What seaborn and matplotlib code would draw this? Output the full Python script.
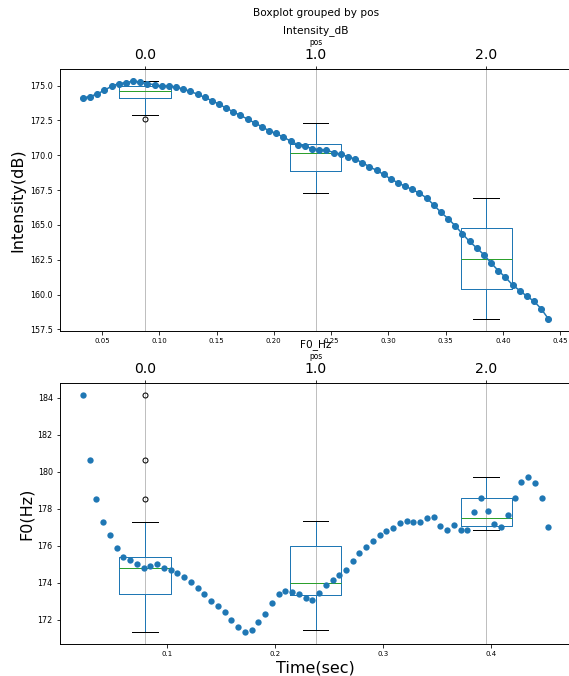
import matplotlib
matplotlib.use("Agg")
import matplotlib.pyplot as plt
from matplotlib.ticker import MultipleLocator
import pandas as pd
import seaborn as sns

# ---- intensity contour (dB) ----
int_time = [0.03340, 0.03965, 0.04590, 0.05215, 0.05840, 0.06465, 0.07090, 0.07715,
            0.08340, 0.08965, 0.09590, 0.10215, 0.10840, 0.11465, 0.12090, 0.12715,
            0.13340, 0.13965, 0.14590, 0.15215, 0.15840, 0.16465, 0.17090, 0.17715,
            0.18340, 0.18965, 0.19590, 0.20215, 0.20840, 0.21465, 0.22090, 0.22715,
            0.23340, 0.23965, 0.24590, 0.25215, 0.25840, 0.26465, 0.27090, 0.27715,
            0.28340, 0.28965, 0.29590, 0.30215, 0.30840, 0.31465, 0.32090, 0.32715,
            0.33340, 0.33965, 0.34590, 0.35215, 0.35840, 0.36465, 0.37090, 0.37715,
            0.38340, 0.38965, 0.39590, 0.40215, 0.40840, 0.41465, 0.42090, 0.42715,
            0.43340, 0.43965]
int_db = [174.12, 174.21, 174.40, 174.66, 174.95, 175.14, 175.21, 175.31,
          175.24, 175.14, 175.05, 174.95, 174.97, 174.88, 174.76, 174.57,
          174.38, 174.14, 173.92, 173.66, 173.38, 173.11, 172.85, 172.59,
          172.31, 172.04, 171.75, 171.56, 171.29, 171.02, 170.75, 170.65,
          170.47, 170.39, 170.37, 170.19, 170.06, 169.90, 169.72, 169.47,
          169.18, 168.91, 168.62, 168.29, 168.02, 167.77, 167.54, 167.27,
          166.93, 166.43, 165.90, 165.45, 164.93, 164.36, 163.81, 163.34,
          162.86, 162.27, 161.72, 161.24, 160.69, 160.29, 159.88, 159.52,
          158.98, 158.26]
int_pos = [0.0] * 24 + [1.0] * 24 + [2.0] * 18

# ---- fundamental frequency contour (Hz) ----
f0_time = [0.02270, 0.02893, 0.03516, 0.04139, 0.04762, 0.05385, 0.06008, 0.06631,
           0.07254, 0.07877, 0.08500, 0.09123, 0.09746, 0.10369, 0.10992, 0.11615,
           0.12238, 0.12861, 0.13484, 0.14107, 0.14730, 0.15353, 0.15976, 0.16599,
           0.17222, 0.17845, 0.18468, 0.19091, 0.19714, 0.20337, 0.20960, 0.21583,
           0.22206, 0.22829, 0.23452, 0.24075, 0.24698, 0.25321, 0.25944, 0.26567,
           0.27190, 0.27813, 0.28436, 0.29059, 0.29682, 0.30305, 0.30928, 0.31551,
           0.32174, 0.32797, 0.33420, 0.34043, 0.34666, 0.35289, 0.35912, 0.36535,
           0.37158, 0.37781, 0.38404, 0.39027, 0.39650, 0.40273, 0.40896, 0.41519,
           0.42142, 0.42765, 0.43388, 0.44011, 0.44634, 0.45257]
f0_hz = [184.15, 180.66, 178.53, 177.29, 176.61, 175.86, 175.39, 175.25,
         175.03, 174.82, 174.90, 175.03, 174.82, 174.67, 174.55, 174.33,
         174.06, 173.74, 173.38, 173.02, 172.77, 172.41, 172.00, 171.59,
         171.32, 171.46, 171.86, 172.34, 172.90, 173.38, 173.58, 173.53,
         173.38, 173.20, 173.06, 173.44, 173.87, 174.13, 174.40, 174.69,
         175.16, 175.64, 175.93, 176.27, 176.59, 176.83, 176.95, 177.22,
         177.36, 177.31, 177.31, 177.49, 177.58, 177.09, 176.88, 177.15,
         176.88, 176.88, 177.85, 178.57, 177.90, 177.19, 177.02, 177.69,
         178.58, 179.48, 179.75, 179.39, 178.58, 177.02]
f0_pos = [0.0] * 25 + [1.0] * 24 + [2.0] * 21

pos_levels = [0.0, 1.0, 2.0]
pos_labels = ["0.0", "1.0", "2.0"]

BLUE = "#1f77b4"
GREEN = "#2ca02c"

int_df = pd.DataFrame({"time": int_time, "Intensity_dB": int_db, "pos": int_pos})
f0_df = pd.DataFrame({"time": f0_time, "F0_Hz": f0_hz, "pos": f0_pos})

DPI = 72
W, H = 569, 676
fig = plt.figure(figsize=(W / DPI, H / DPI), dpi=DPI)

LEFT = 59.7          # left spine (px)
RIGHT_NOMINAL = 571.6  # where the 0.5..3.5 box range ends
RIGHT = 576.0        # actual right spine, just past the canvas edge
STRETCH = (RIGHT - LEFT) / (RIGHT_NOMINAL - LEFT)


def px_rect(left, top, right, bottom):
    return [left / W, 1 - bottom / H, (right - left) / W, (bottom - top) / H]


def panel(top, bottom, df, col, ylabel, xlabel, tstep, ystep, as_line):
    rect = px_rect(LEFT, top, RIGHT, bottom)
    ax_box = fig.add_axes(rect)
    groups = [df.loc[df["pos"] == p, col].to_numpy() for p in pos_levels]
    ax_box.boxplot(
        groups, positions=[1, 2, 3], widths=0.3,
        boxprops=dict(color=BLUE, linewidth=1.0),
        whiskerprops=dict(color=BLUE, linewidth=1.0),
        medianprops=dict(color=GREEN, linewidth=1.0),
        capprops=dict(color="k", linewidth=1.0),
        flierprops=dict(marker="o", markerfacecolor="none",
                        markeredgecolor="k", markersize=5),
    )
    ax_box.set_xticks([1, 2, 3], pos_labels)
    ax_box.set_xlim(0.5, 0.5 + 3.0 * STRETCH)

    ax_time = ax_box.twiny()
    if as_line:
        sns.lineplot(data=df, x="time", y=col, ax=ax_time, color=BLUE,
                     linewidth=1.5, marker="o", markersize=6,
                     markeredgecolor=BLUE, markeredgewidth=1)
    else:
        sns.scatterplot(data=df, x="time", y=col, ax=ax_time, color=BLUE,
                        s=40, linewidth=0)
    t0, t1 = ax_time.get_xlim()
    ax_time.set_xlim(t0, t0 + (t1 - t0) * STRETCH)

    # boxes on the upper axis, time on the lower axis
    ax_time.xaxis.set_ticks_position("bottom")
    ax_time.xaxis.set_label_position("bottom")
    ax_box.xaxis.set_ticks_position("top")
    ax_box.xaxis.set_label_position("top")

    ax_box.grid(axis="x", color="#b0b0b0", linewidth=0.8)
    ax_box.tick_params(axis="x", labelsize=14)
    ax_box.tick_params(axis="y", labelsize=8)
    ax_time.tick_params(axis="x", labelsize=7)
    ax_time.xaxis.set_major_locator(MultipleLocator(tstep))
    ax_box.yaxis.set_major_locator(MultipleLocator(ystep))

    ax_h = bottom - top
    ax_box.set_xlabel("pos", fontsize=7.5)
    ax_box.xaxis.set_label_coords(0.5 / STRETCH, 1 + 26.5 / ax_h)
    ax_box.xaxis.label.set_va("center")
    ax_box.set_title(col, fontsize=10.5, y=1 + 38.3 / ax_h, pad=0, va="center",
                     x=0.5 / STRETCH)
    ax_box.set_ylabel(ylabel, fontsize=16)
    ax_time.set_xlabel(xlabel, fontsize=16)
    ax_time.xaxis.set_label_coords(0.5 / STRETCH, -23.7 / ax_h)
    ax_time.xaxis.label.set_va("center")
    ax_time.set_ylabel("")
    return ax_box, ax_time


panel(69.3, 330.7, int_df, "Intensity_dB", "Intensity(dB)", "", 0.05, 2.5, True)
panel(383.3, 644.3, f0_df, "F0_Hz", "F0(Hz)", "Time(sec)", 0.1, 2, False)

fig.suptitle("Boxplot grouped by pos", x=(LEFT + RIGHT_NOMINAL) / 2 / W,
             y=1 - 13.3 / H, va="center", fontsize=10.5)

fig.savefig("out.png", dpi=DPI)
